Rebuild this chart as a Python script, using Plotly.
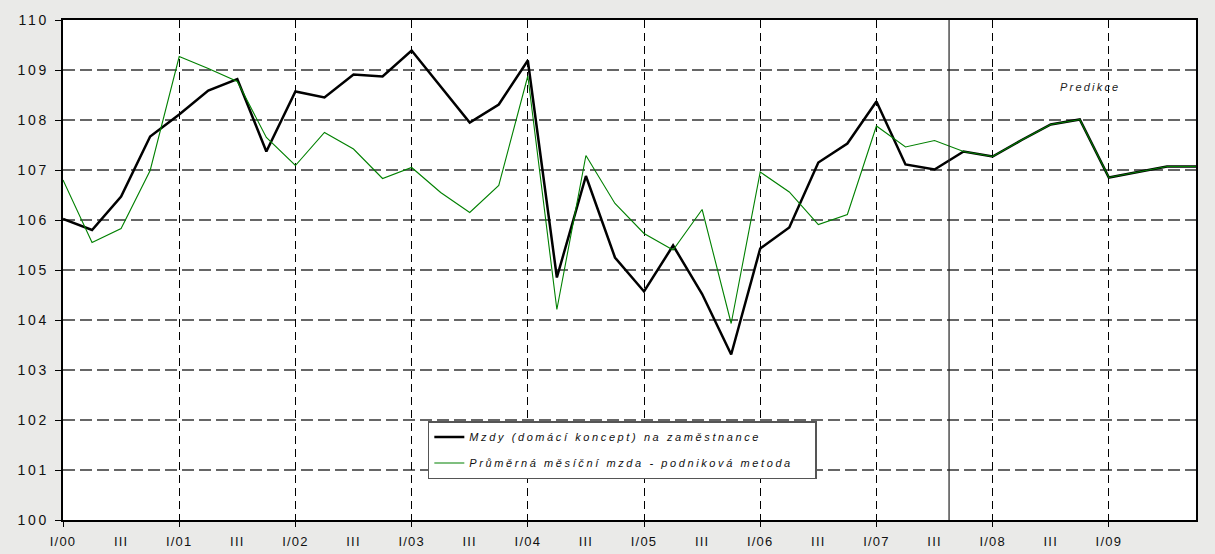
import plotly.graph_objects as go

# ---- data ----
years = ["00", "01", "02", "03", "04", "05", "06", "07", "08", "09"]
quarter_names = ["I", "II", "III", "IV"]
quarters = [f"{q}/{y}" for y in years for q in quarter_names]

mzdy_dk = [106.02, 105.80, 106.47, 107.67, 108.11, 108.59, 108.82, 107.37,
           108.57, 108.45, 108.91, 108.87, 109.39, 108.67, 107.95, 108.31,
           109.19, 104.85, 106.88, 105.25, 104.57, 105.49, 104.52, 103.31,
           105.43, 105.85, 107.15, 107.53, 108.37, 107.11, 107.01, 107.37,
           107.27, 107.60, 107.91, 108.01, 106.85, 106.96, 107.07, 107.07]

prumerna_mzda = [106.80, 105.55, 105.83, 106.99, 109.27, 109.03, 108.77, 107.65,
                 107.09, 107.75, 107.42, 106.83, 107.05, 106.55, 106.15, 106.69,
                 108.88, 104.21, 107.29, 106.33, 105.73, 105.40, 106.21, 103.93,
                 106.96, 106.56, 105.91, 106.11, 107.88, 107.46, 107.59, 107.37,
                 107.27, 107.60, 107.91, 108.01, 106.85, 106.96, 107.07, 107.07]

label_vals = [f"{q}/{y}" for y in years for q in ["I", "III"]][:-1]
label_text = [v if v.startswith("I/") else "III" for v in label_vals]
year_vals = [f"I/{y}" for y in years]
y_ticks = [100, 101, 102, 103, 104, 105, 106, 107, 108, 109, 110]

forecast_start = 30.5
name_black = "Mzdy (domácí koncept) na zaměstnance"
name_green = "Průměrná měsíční mzda - podniková metoda"
predikce_text = "Predikce"
predikce_pos = (35.35, 108.66)

FONT = "Arial, Liberation Sans, sans-serif"
BG = "#eaeae8"


def spaced(t, px=2.6):
    return f'<span style="letter-spacing:{px}px">{t}</span>'


fig = go.Figure()
fig.add_trace(go.Scatter(
    x=quarters, y=mzdy_dk, mode="lines",
    name=spaced(name_black + "&nbsp;&nbsp;&nbsp;"),
    line=dict(color="black", width=2.5), legendgroup="a", xaxis="x", yaxis="y"))
fig.add_trace(go.Scatter(
    x=quarters, y=prumerna_mzda, mode="lines",
    name=spaced(name_green + "&nbsp;&nbsp;&nbsp;"),
    line=dict(color="#008000", width=1.1), legendgroup="b", xaxis="x2", yaxis="y"))

fig.add_shape(type="line", xref="x", yref="y", x0=forecast_start, x1=forecast_start,
              y0=100, y1=110, line=dict(color="#222222", width=1.2), layer="above")

fig.add_annotation(x=predikce_pos[0], y=predikce_pos[1], xref="x", yref="y",
                   text=spaced(predikce_text, 2.2), showarrow=False,
                   font=dict(family=FONT, size=11, color="#222222", style="italic"))

fig.update_layout(
    width=1215, height=554,
    margin=dict(l=63, r=19, t=20, b=34, autoexpand=False),
    paper_bgcolor=BG,
    plot_bgcolor="white",
    showlegend=True,
    legend=dict(x=0.322, y=0.198, xanchor="left", yanchor="top",
                bgcolor="white", bordercolor="#555555", borderwidth=1.5,
                font=dict(family=FONT, size=11, color="#111111", style="italic"),
                traceorder="grouped", tracegroupgap=7, itemwidth=30),
    xaxis=dict(
        type="category", range=[0, 39], categoryorder="array", categoryarray=quarters,
        tickmode="array", tickvals=label_vals,
        ticktext=[spaced(t, 1.2) for t in label_text],
        ticks="outside", ticklen=6, tickcolor="rgba(0,0,0,0)",
        showgrid=False, zeroline=False, automargin=False,
        showline=True, linecolor="black", linewidth=2, mirror=True,
        tickfont=dict(family=FONT, size=13, color="#111111"),
        ticklabelstandoff=2),
    xaxis2=dict(
        type="category", overlaying="x", anchor="y", side="bottom",
        range=[0, 39], categoryorder="array", categoryarray=quarters,
        tickmode="array", tickvals=year_vals, showticklabels=False,
        ticks="outside", ticklen=6, tickcolor="black", tickwidth=1.2,
        showgrid=True, gridcolor="black", gridwidth=1, griddash="8px,5px",
        showline=False, zeroline=False, automargin=False),
    yaxis=dict(
        range=[100, 110], tickmode="array", tickvals=y_ticks,
        ticktext=[spaced(str(v), 2.8) for v in y_ticks],
        ticks="outside", ticklen=6, tickcolor="black", tickwidth=1.2,
        showgrid=True, gridcolor="#666666", gridwidth=1.7, griddash="12px,5px",
        showline=True, linecolor="black", linewidth=2, mirror=True, zeroline=False,
        automargin=False,
        tickfont=dict(family=FONT, size=14, color="#111111"),
        ticklabelstandoff=3),
)

fig.write_html(
    "out.html",
    config={"displayModeBar": False},
    post_script=f"document.body.style.margin='0';document.body.style.background='{BG}';",
)
